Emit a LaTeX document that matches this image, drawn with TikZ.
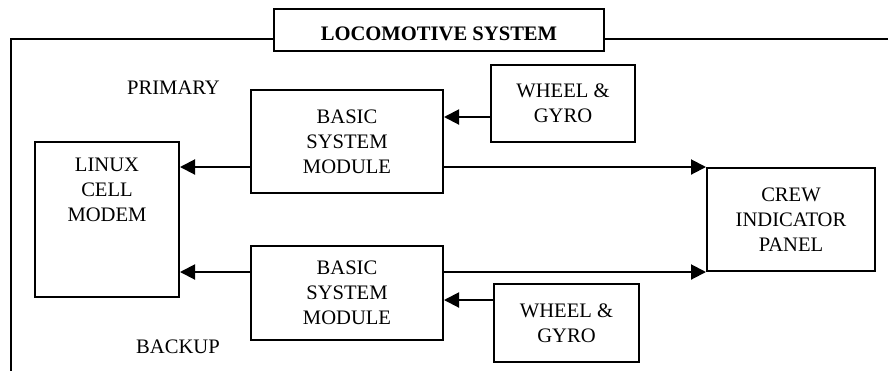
\documentclass[tikz,border=0pt]{standalone}
\usepackage{fontspec}
\setmainfont{Liberation Serif}
\usetikzlibrary{arrows.meta}

\begin{document}
\begin{tikzpicture}[x=0.5pt,y=-0.5pt,>={Triangle[length=7.5pt,width=7.5pt]},line width=1pt,font=\fontsize{10.3}{12.5}\selectfont,blk/.style={draw,inner sep=0pt,align=center}]

            \useasboundingbox (0,0) rectangle (888,371);

            \node[blk, minimum width=165pt, text height=15.5pt, text depth=5.5pt, font=\fontsize{10.3}{12.5}\selectfont\bfseries] (title) at (439,30) {LOCOMOTIVE SYSTEM};
            \node[blk, minimum width=96pt, minimum height=51.5pt] (bsm1) at (347,141.5) {BASIC\\SYSTEM\\MODULE};
            \node[blk, minimum width=96pt, minimum height=47pt] (bsm2) at (347,293) {BASIC\\SYSTEM\\MODULE};
            \node[blk, minimum width=72pt, minimum height=38.5pt] (wheel1) at (563,103.5) {WHEEL \&\\GYRO};
            \node[blk, minimum width=72.5pt, minimum height=39pt] (wheel2) at (566.5,323) {WHEEL \&\\GYRO};
            \node[blk, minimum width=72pt, minimum height=77.5pt] (modem) at (107,219.5) {};
            \node[anchor=north, align=center, inner sep=0pt] (modemtxt) at ([yshift=-8pt]modem.north) {LINUX\\CELL\\MODEM};
            \node[blk, minimum width=84pt, minimum height=51.5pt] (crew) at (791,219.5) {CREW\\INDICATOR\\PANEL};
            \node (primary) at (173.5,87.5) {PRIMARY};
            \node (backup) at (178,346.5) {BACKUP};

            \coordinate (tl) at (11,39);
            \coordinate (bl) at (11,371);
            \coordinate (tr) at (888,39);
            \coordinate (w1) at ([yshift=-6.75pt]wheel1.west);
            \coordinate (w2) at ([yshift=11.5pt]wheel2.west);

            \draw (title.west |- tl) -- (tl) -- (bl);
            \draw (title.east |- tl) -- (tr);
            \draw[->] (w1) to (w1 -| bsm1.east);
            \draw[->] (w2) to (w2 -| bsm2.east);
            \draw[->] (bsm1.west |- crew.north) to (modem.east |- crew.north);
            \draw[->] (bsm1.east |- crew.north) to (crew.north west);
            \draw[->] (bsm2.west |- crew.south) to (modem.east |- crew.south);
            \draw[->] (bsm2.east |- crew.south) to (crew.south west);

        \end{tikzpicture}
\end{document}
